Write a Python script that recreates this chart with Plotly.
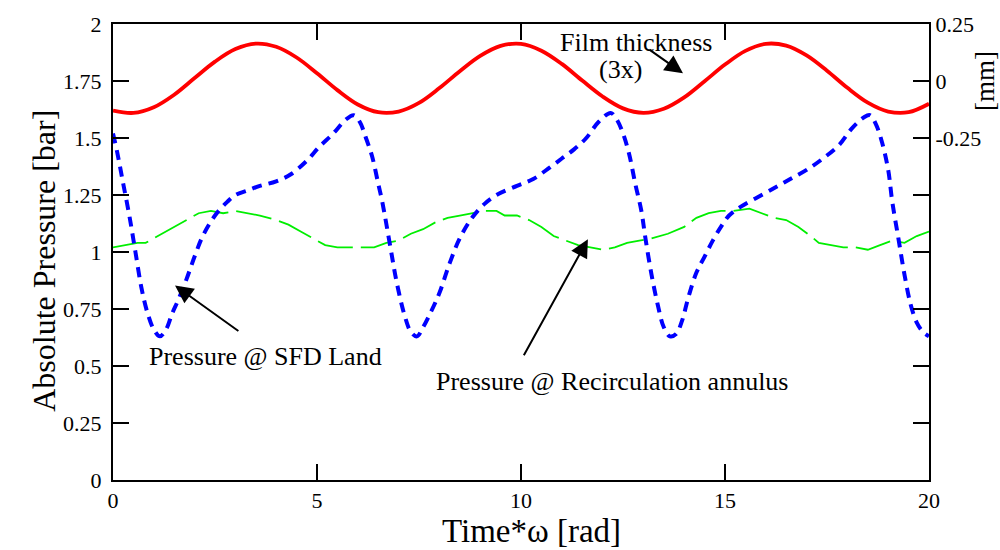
import plotly.graph_objects as go

# ---- data ----
film_t = [0.0, 0.5, 1.0, 1.5, 2.0, 2.5, 3.0, 3.5, 4.0, 4.5, 5.0, 5.5, 6.0, 6.5, 7.0, 7.5, 8.0, 8.5, 9.0, 9.5,
          10.0, 10.5, 11.0, 11.5, 12.0, 12.5, 13.0, 13.5, 14.0, 14.5, 15.0, 15.5, 16.0, 16.5, 17.0, 17.5, 18.0,
          18.5, 19.0, 19.5, 20.0]
film_mm = [-0.13, -0.14, -0.115, -0.06, 0.013, 0.085, 0.14, 0.164, 0.15, 0.103, 0.034, -0.04, -0.103, -0.137,
           -0.134, -0.096, -0.031, 0.043, 0.11, 0.154, 0.163, 0.133, 0.075, 0.002, -0.068, -0.12, -0.14, -0.122,
           -0.072, -0.001, 0.072, 0.132, 0.163, 0.155, 0.112, 0.045, -0.03, -0.095, -0.134, -0.137, -0.1]

land_t = [0.0, 0.1, 0.25, 0.4, 0.55, 0.7, 0.85, 1.0, 1.15, 1.3, 1.45, 1.6, 1.8, 2.0, 2.2, 2.5, 2.8, 3.0, 3.3,
          3.6, 4.0, 4.35, 4.75, 5.05, 5.4, 5.7, 5.9, 6.05, 6.2, 6.35, 6.5, 6.6, 6.8, 6.95, 7.15, 7.3, 7.45, 7.6,
          7.8, 8.0, 8.25, 8.5, 8.8, 9.1, 9.4, 9.9, 10.3, 10.7, 11.0, 11.3, 11.6, 11.9, 12.2, 12.35, 12.5, 12.65,
          12.8, 12.95, 13.05, 13.2, 13.35, 13.5, 13.65, 13.8, 13.95, 14.1, 14.3, 14.5, 14.7, 14.9, 15.1, 15.4,
          15.9, 16.3, 16.6, 17.0, 17.4, 17.8, 18.1, 18.4, 18.55, 18.7, 18.85, 19.0, 19.1, 19.25, 19.4, 19.55,
          19.7, 19.85, 20.0]
land_bar = [1.52, 1.44, 1.30, 1.16, 1.00, 0.84, 0.73, 0.66, 0.63, 0.66, 0.73, 0.79, 0.88, 0.98, 1.07, 1.16,
            1.22, 1.25, 1.27, 1.29, 1.31, 1.34, 1.40, 1.46, 1.52, 1.58, 1.60, 1.57, 1.50, 1.42, 1.30, 1.22,
            1.02, 0.87, 0.72, 0.65, 0.63, 0.67, 0.74, 0.82, 0.95, 1.06, 1.15, 1.21, 1.25, 1.29, 1.32, 1.37,
            1.41, 1.45, 1.50, 1.57, 1.61, 1.58, 1.52, 1.43, 1.30, 1.18, 1.06, 0.90, 0.77, 0.67, 0.63, 0.64,
            0.70, 0.80, 0.91, 0.98, 1.05, 1.11, 1.16, 1.20, 1.25, 1.29, 1.32, 1.36, 1.41, 1.47, 1.54, 1.59,
            1.60, 1.56, 1.48, 1.36, 1.22, 1.06, 0.90, 0.77, 0.69, 0.65, 0.63]

recirc_t = [0.0, 0.3, 0.6, 0.8, 1.0, 1.3, 1.6, 1.9, 2.1, 2.4, 2.7, 3.0, 3.3, 3.6, 4.0, 4.3, 4.6, 4.9, 5.2, 5.5,
            5.8, 6.1, 6.4, 6.7, 7.0, 7.3, 7.6, 7.9, 8.2, 8.5, 8.8, 9.1, 9.4, 9.6, 9.9, 10.2, 10.5, 10.8, 11.1,
            11.4, 11.7, 12.0, 12.3, 12.6, 12.9, 13.2, 13.6, 14.0, 14.3, 14.6, 14.9, 15.2, 15.6, 15.9, 16.2,
            16.5, 16.8, 17.1, 17.3, 17.6, 17.9, 18.2, 18.5, 18.8, 19.1, 19.4, 19.7, 20.0]
recirc_bar = [1.02, 1.03, 1.04, 1.04, 1.06, 1.09, 1.12, 1.15, 1.17, 1.18, 1.17, 1.18, 1.17, 1.16, 1.14, 1.12,
              1.09, 1.06, 1.03, 1.02, 1.02, 1.02, 1.02, 1.04, 1.05, 1.08, 1.10, 1.13, 1.15, 1.16, 1.17, 1.18,
              1.18, 1.16, 1.16, 1.14, 1.11, 1.07, 1.05, 1.03, 1.02, 1.01, 1.02, 1.04, 1.05, 1.06, 1.08, 1.11,
              1.15, 1.17, 1.18, 1.18, 1.19, 1.17, 1.15, 1.14, 1.11, 1.07, 1.04, 1.03, 1.02, 1.02, 1.01, 1.03,
              1.05, 1.04, 1.07, 1.09]

x_ticks = [0, 5, 10, 15, 20]
y_ticks = [0, 0.25, 0.5, 0.75, 1, 1.25, 1.5, 1.75, 2]
y_ticklabels = ["0", "0.25", "0.5", "0.75", "1", "1.25", "1.5", "1.75", "2"]
y2_ticks = [-1.75, -1.5, -1.25, -1.0, -0.75, -0.5, -0.25, 0, 0.25]
y2_ticklabels = ["", "", "", "", "", "", "-0.25", "0", "0.25"]

FONT = "Liberation Serif"

fig = go.Figure()
fig.add_trace(go.Scatter(x=recirc_t, y=recirc_bar, mode="lines", line=dict(color="#00ee00", width=1.8, dash="36px,8px"),
                         showlegend=False))
fig.add_trace(go.Scatter(x=land_t, y=land_bar, mode="lines", line=dict(color="#0000ff", width=4, dash="10px,7px", shape="spline"),
                         showlegend=False))
fig.add_trace(go.Scatter(x=film_t, y=film_mm, yaxis="y2", mode="lines", line=dict(color="#ff0000", width=3.8, shape="spline"),
                         showlegend=False))

axis_common = dict(showline=True, linecolor="black", linewidth=2, ticks="inside", ticklen=16, tickwidth=2,
                   tickcolor="black", showgrid=False, zeroline=False,
                   tickfont=dict(family=FONT, size=22, color="black"))

fig.update_layout(
    width=1000, height=550,
    margin=dict(l=113, r=71, t=18, b=70),
    paper_bgcolor="white", plot_bgcolor="white",
    font=dict(family=FONT, color="black"),
    xaxis=dict(range=[0, 20], tickvals=x_ticks, mirror="ticks", **axis_common),
    yaxis=dict(range=[0, 2], tickvals=y_ticks, ticktext=y_ticklabels, mirror=True, ticklabelstandoff=5,
               **axis_common),
    yaxis2=dict(range=[-1.75, 0.25], tickvals=y2_ticks, ticktext=y2_ticklabels, overlaying="y", side="right",
                **axis_common),
)

annotations = [
    dict(text="Time*ω [rad]", x=10.25, xref="x", y=-0.1126, yref="paper", showarrow=False,
         font=dict(family=FONT, size=33, color="black"), xanchor="center", yanchor="middle"),
    dict(text="Absolute Pressure [bar]", x=-0.085, xref="paper", y=0.96, yref="y", showarrow=False, textangle=-90,
         font=dict(family=FONT, size=32, color="black"), xanchor="center", yanchor="middle"),
    dict(text="[mm]", x=1.0686, xref="paper", y=0.0, yref="y2", showarrow=False, textangle=-90,
         font=dict(family=FONT, size=27, color="black"), xanchor="center", yanchor="middle"),
    dict(text="Film thickness", x=12.82, y=1.918, xref="x", yref="y", showarrow=False,
         font=dict(family=FONT, size=26, color="black")),
    dict(text="(3x)", x=12.43, y=1.80, xref="x", yref="y", showarrow=False,
         font=dict(family=FONT, size=26, color="black")),
    dict(text="Pressure @ SFD Land", x=3.73, y=0.541, xref="x", yref="y", showarrow=False,
         font=dict(family=FONT, size=26, color="black")),
    dict(text="Pressure @ Recirculation annulus", x=12.23, y=0.433, xref="x", yref="y", showarrow=False,
         font=dict(family=FONT, size=26, color="black")),
    # arrows
    dict(text="", x=1.52, y=0.853, xref="x", yref="y", ax=3.11, ay=0.649, axref="x", ayref="y",
         showarrow=True, arrowhead=2, arrowsize=1.8, arrowwidth=2, arrowcolor="black"),
    dict(text="", x=11.64, y=1.056, xref="x", yref="y", ax=10.05, ay=0.541, axref="x", ayref="y",
         showarrow=True, arrowhead=2, arrowsize=1.8, arrowwidth=2, arrowcolor="black"),
    dict(text="", x=13.97, y=0.034, xref="x", yref="y2", ax=13.11, ay=0.142, axref="x", ayref="y2",
         showarrow=True, arrowhead=2, arrowsize=1.8, arrowwidth=2, arrowcolor="black"),
]
fig.update_layout(annotations=annotations)

fig.write_html("out.html")
